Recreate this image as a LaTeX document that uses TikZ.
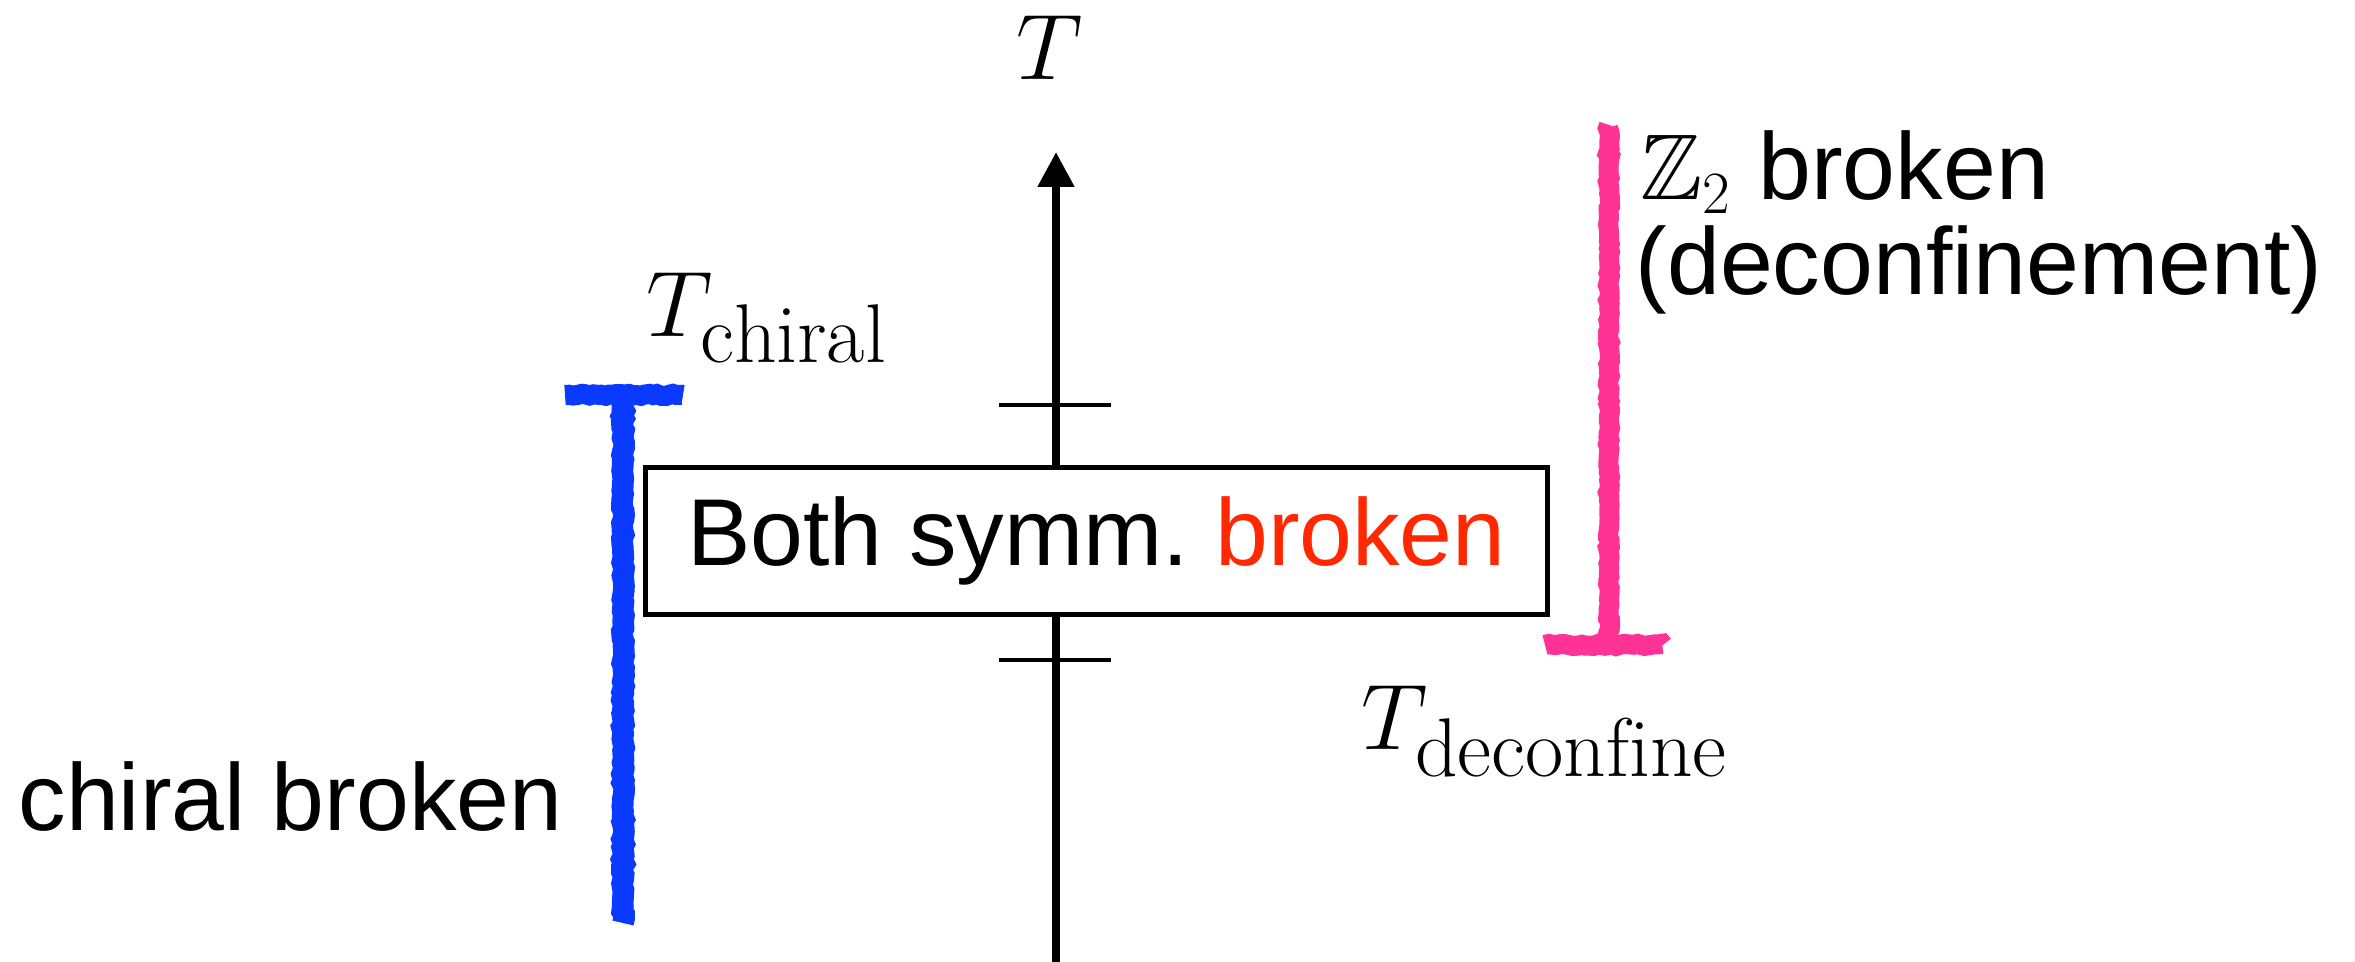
\RequirePackage{fix-cm}
\documentclass[tikz,border=0pt]{standalone}
\usepackage{amssymb}
\usepackage{fontspec}
\usetikzlibrary{arrows.meta,decorations.pathmorphing}
\newfontfamily\hv{Liberation Sans}
\DeclareMathSizes{27.7}{28}{25}{18}
\DeclareMathSizes{28.5}{28}{25}{18}
\definecolor{chiblue}{RGB}{10,58,255}
\definecolor{zpink}{RGB}{255,50,150}
\definecolor{bred}{RGB}{255,40,0}
\tikzset{
  lbl/.style={inner sep=0pt, font=\fontsize{27.7}{27.7}\selectfont},
  sanslbl/.style={inner sep=0pt, font=\hv\fontsize{28.5}{28.5}\selectfont},
  axisline/.style={line width=2.4pt, -{Triangle[width=10.5pt,length=10.5pt]}},
  tickline/.style={line width=1.2pt},
  phasebox/.style={draw, fill=white, line width=1.5pt, inner sep=0pt,
    minimum width=270.6pt, minimum height=44.25pt,
    font=\hv\fontsize{28.5}{28.5}\selectfont},
  crayon/.style={line width=#1, decorate,
    decoration={random steps, segment length=1.2pt, amplitude=0.35pt}},
}
\pgfmathsetseed{7}
\begin{document}
\begin{tikzpicture}[x=0.3pt, y=-0.3pt]
\useasboundingbox (0,0) rectangle (2355,962);
% axis
\coordinate (axbot) at (1056,962);
\coordinate (axtop) at (1056,152);
\draw[axisline] (axbot) -- (axtop);
\node[lbl, anchor=base] (Tlab) at (1050,80) {$T$};
% ticks
\coordinate (t1l) at (999,405);
\coordinate (t1r) at (1111,405);
\coordinate (t2l) at (999,660);
\coordinate (t2r) at (1111,660);
\draw[tickline] (t1l) -- (t1r);
\draw[tickline] (t2l) -- (t2r);
% box
\node[phasebox] (box) at (1096.5,541) {Both symm.\ \textcolor{bred}{broken}};
% chiral bar
\coordinate (bl) at (565,395);
\coordinate (br) at (683,395);
\coordinate (bt) at (623,395);
\coordinate (bb) at (623,923);
\draw[crayon=6pt, chiblue] (bl) -- (br);
\draw[crayon=6.5pt, chiblue] (bt) -- (bb);
% Z2 bar
\coordinate (pt) at (1609,125);
\coordinate (pb) at (1609,645);
\coordinate (pl) at (1545,645);
\coordinate (pr) at (1663,645);
\draw[crayon=6pt, zpink] (pt) -- (pb);
\draw[crayon=6pt, zpink] (pl) -- (pr);
% labels
\node[lbl, anchor=base west] (Tchi) at (646,337) {$T_{\mathrm{chiral}}$};
\node[lbl, anchor=base west] (Tdec) at (1361,750) {$T_{\mathrm{deconfine}}$};
\node[sanslbl, anchor=base west] (chib) at (18,831) {chiral broken};
\node[sanslbl, anchor=base west] (zb) at (1640,200) {$\mathbb{Z}_{\scriptscriptstyle 2}$ broken};
\node[sanslbl, anchor=base west] (dec) at (1635,295) {(deconfinement)};
\end{tikzpicture}
\end{document}
